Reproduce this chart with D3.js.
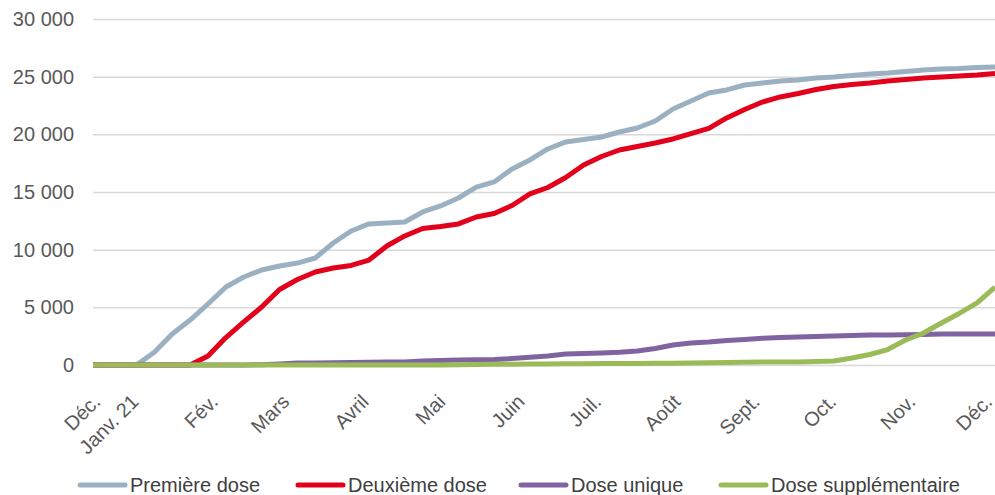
<!DOCTYPE html>
<html>
<head>
<meta charset="utf-8">
<script src="https://cdn.jsdelivr.net/npm/d3@7"></script>
<style>
  body { margin: 0; background: #fff; }
  text { font-family: "Liberation Sans", Arial, sans-serif; }
</style>
</head>
<body>
<div id="chart"></div>
<script>
// weekly readings, cumulative counts
var dates = ["2020-12-15",
  "2021-01-01", "2021-01-08", "2021-01-15", "2021-01-22", "2021-01-29",
  "2021-02-05", "2021-02-12", "2021-02-19", "2021-02-26", "2021-03-05",
  "2021-03-12", "2021-03-19", "2021-03-26", "2021-04-02", "2021-04-09",
  "2021-04-16", "2021-04-23", "2021-04-30", "2021-05-07", "2021-05-14",
  "2021-05-21", "2021-05-28", "2021-06-04", "2021-06-11", "2021-06-18",
  "2021-06-25", "2021-07-02", "2021-07-09", "2021-07-16", "2021-07-23",
  "2021-07-30", "2021-08-06", "2021-08-13", "2021-08-20", "2021-08-27",
  "2021-09-03", "2021-09-10", "2021-09-17", "2021-09-24", "2021-10-01",
  "2021-10-08", "2021-10-15", "2021-10-22", "2021-10-29", "2021-11-05",
  "2021-11-12", "2021-11-19", "2021-11-26", "2021-12-03"];

var premiereDose = [0,
  0, 1100, 2690, 3900, 5290, 6760, 7630, 8240, 8580, 8840,
  9280, 10580, 11620, 12230, 12310, 12400, 13270, 13790, 14480, 15430,
  15870, 17000, 17780, 18730, 19340, 19550, 19770, 20200, 20550, 21160,
  22200, 22890, 23590, 23850, 24280, 24450, 24630, 24710, 24890, 24970,
  25100, 25230, 25320, 25450, 25580, 25670, 25710, 25800, 25840];

var deuxiemeDose = [0,
  0, 0, 0, 0, 780, 2380, 3730, 5030, 6550, 7410,
  8060, 8410, 8630, 9100, 10320, 11190, 11840, 12010, 12230, 12830,
  13140, 13830, 14830, 15390, 16260, 17340, 18080, 18640, 18950, 19250,
  19600, 20070, 20510, 21420, 22150, 22800, 23240, 23540, 23890, 24150,
  24320, 24450, 24630, 24760, 24890, 24970, 25060, 25150, 25280];

var doseUnique = [0,
  0, 0, 0, 0, 0, 0, 0, 30, 90, 170,
  180, 190, 220, 230, 250, 260, 350, 390, 430, 450,
  480, 560, 670, 780, 950, 1000, 1040, 1100, 1210, 1430,
  1730, 1910, 1990, 2120, 2210, 2320, 2380, 2430, 2470, 2510,
  2560, 2600, 2600, 2620, 2650, 2690, 2690, 2690, 2690];

var doseSupplementaire = [0,
  0, 0, 0, 0, 0, 0, 0, 0, 0, 0,
  0, 0, 0, 0, 0, 0, 0, 0, 30, 50,
  60, 70, 80, 90, 100, 110, 120, 130, 140, 150,
  160, 170, 190, 210, 230, 250, 260, 270, 300, 350,
  610, 910, 1340, 2170, 2770, 3640, 4470, 5380, 6760];

var seriesNames = ["Première dose", "Deuxième dose", "Dose unique", "Dose supplémentaire"];
var seriesColors = ["#9bb1c2", "#e2001a", "#8064a2", "#9bbb59"];

var tickDates = ["2020-12-17", "2021-01-01", "2021-02-01", "2021-03-01", "2021-04-01",
  "2021-05-01", "2021-06-01", "2021-07-01", "2021-08-01", "2021-09-01",
  "2021-10-01", "2021-11-01", "2021-12-01"];
var tickLabels = ["Déc.", "Janv. 21", "Fév.", "Mars", "Avril", "Mai", "Juin",
  "Juil.", "Août", "Sept.", "Oct.", "Nov.", "Déc."];
var yTicks = [0, 5000, 10000, 15000, 20000, 25000, 30000];

var width = 995, height = 495;
var parse = d3.utcParse("%Y-%m-%d");

var svg = d3.select("#chart").append("svg")
  .attr("width", width)
  .attr("height", height);

var x = d3.scaleUtc()
  .domain([parse("2020-12-15"), parse("2021-12-03")])
  .range([93, 995]);

var y = d3.scaleLinear()
  .domain([0, 30000])
  .range([365, 19]);

var fr = d3.formatLocale({decimal: ",", thousands: " ", grouping: [3], currency: ["", " €"]});
var fmt = fr.format(",d");

// grid + y labels
var yAxis = d3.axisLeft(y)
  .tickValues(yTicks)
  .tickSize(-(x.range()[1] - x.range()[0]))
  .tickPadding(19)
  .tickFormat(fmt);

var gy = svg.append("g")
  .attr("transform", "translate(" + x.range()[0] + ",0)")
  .call(yAxis);
gy.select(".domain").remove();
gy.selectAll("line").attr("stroke", "#d9d9d9").attr("stroke-width", 1.5);
gy.selectAll("text")
  .attr("fill", "#595959")
  .style("font-size", "20px");

// x labels, rotated
var xAxis = d3.axisBottom(x)
  .tickValues(tickDates.map(parse))
  .tickSize(0)
  .tickFormat(function(d, i) { return tickLabels[i]; });

var gx = svg.append("g")
  .attr("transform", "translate(0," + y(0) + ")")
  .call(xAxis);
gx.select(".domain").remove();
gx.selectAll("text")
  .attr("fill", "#595959")
  .style("font-size", "20px")
  .attr("text-anchor", "end")
  .attr("dy", null)
  .attr("y", 0)
  .attr("transform", "translate(3,38) rotate(-45)");

// lines
var allSeries = [premiereDose, deuxiemeDose, doseUnique, doseSupplementaire];
var line = d3.line()
  .x(function(d, i) { return x(parse(dates[i])); })
  .y(function(d) { return y(d); });

svg.append("g").selectAll("path")
  .data(allSeries)
  .enter()
  .append("path")
  .attr("d", line)
  .attr("fill", "none")
  .attr("stroke", function(d, i) { return seriesColors[i]; })
  .attr("stroke-width", 5)
  .attr("stroke-linejoin", "round");

// legend
var legendX = [78, 296, 519, 719];
var legend = svg.append("g").selectAll("g")
  .data(seriesNames)
  .enter()
  .append("g")
  .attr("transform", function(d, i) { return "translate(" + legendX[i] + ",485)"; });

legend.append("line")
  .attr("x1", 2).attr("x2", 47)
  .attr("stroke", function(d, i) { return seriesColors[i]; })
  .attr("stroke-width", 5)
  .attr("stroke-linecap", "round");

legend.append("text")
  .attr("x", 52)
  .attr("dy", "0.35em")
  .attr("fill", "#404040")
  .style("font-size", "20px")
  .text(function(d) { return d; });
</script>
</body>
</html>
